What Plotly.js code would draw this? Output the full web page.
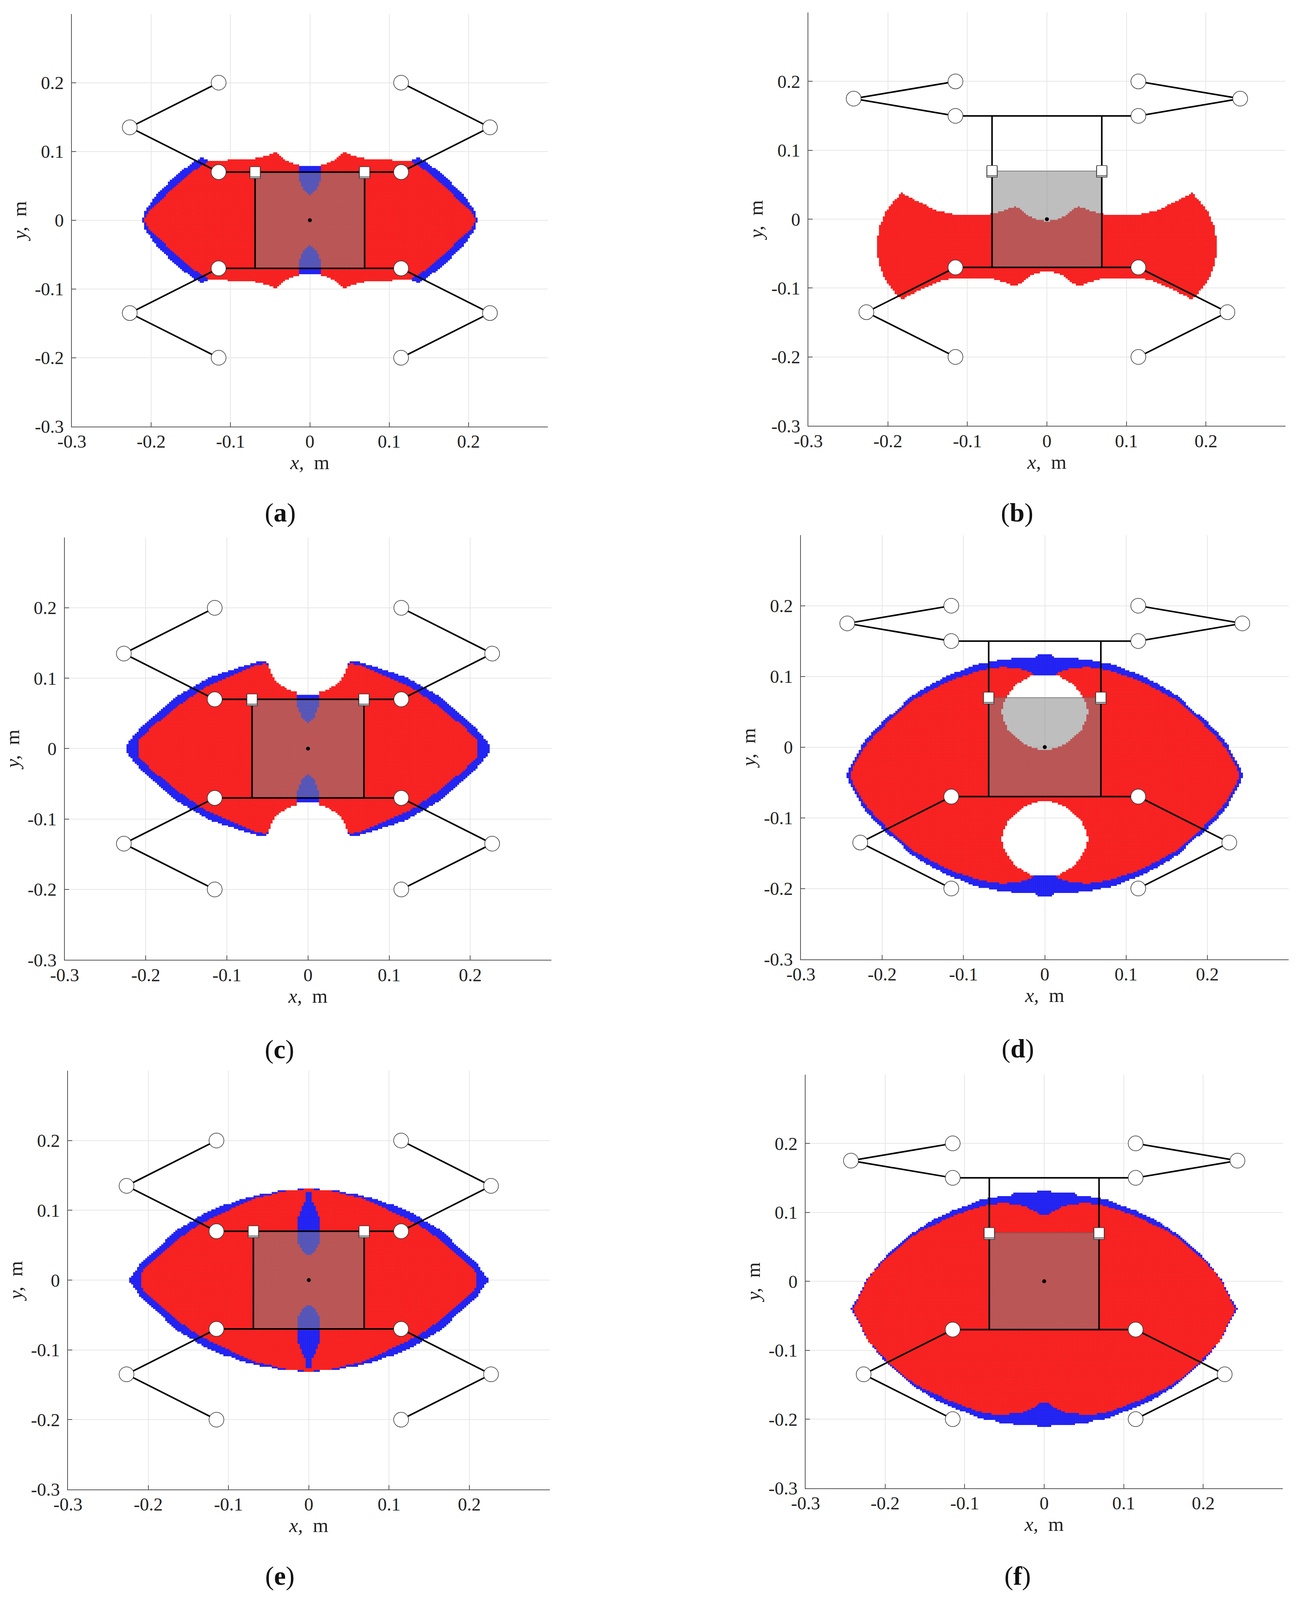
<!DOCTYPE html>
<html><head><meta charset="utf-8">
<script src="https://cdn.plot.ly/plotly-3.0.1.min.js"></script>
<style>html,body{margin:0;padding:0;background:#fff;overflow:hidden}</style></head>
<body><div id="chart"></div>
<script>
// Tick labels
const tickVals=[-0.3,-0.2,-0.1,0,0.1,0.2];
const tickText=['-0.3','-0.2','-0.1','0','0.1','0.2'];
const panelLetters=['a','b','c','d','e','f'];
// Workspace outlines: upper-right quarter (m); mirrored by x=0 and y=centre
const centreY=[0,-0.0395,0,-0.04,0,-0.0405];
const aBlueX=[0,0.0148,0.0148,0.0296,0.0378,0.0435,0.0509,0.059,0.0714,0.1215,0.128,0.136,0.165,0.1935,0.2076,0.2114];
const aBlueY=[0.0778,0.0778,0.0803,0.086,0.0934,0.0984,0.095,0.0921,0.0895,0.0865,0.0865,0.0925,0.069,0.0376,0.013,0];
const aRedX=[0,0.006,0.0105,0.0135,0.0148,0.0148,0.0296,0.0378,0.0435,0.0509,0.059,0.0714,0.1215,0.1276,0.1464,0.1653,0.1888,0.204,0.2086];
const aRedY=[0.036,0.042,0.05,0.06,0.068,0.0803,0.086,0.0934,0.0984,0.095,0.0921,0.0895,0.0865,0.0854,0.0717,0.0546,0.0278,0.0122,0];
const bBlueX=[],bBlueY=[];
const bRedX=[0,0.014,0.0235,0.0305,0.04,0.047,0.0563,0.0728,0.117,0.136,0.16,0.183,0.202,0.211,0.215];
const bRedY=[-0.0035,-0.0005,0.0044,0.0127,0.018,0.0156,0.0117,0.0068,0.0068,0.0117,0.0238,0.0384,0.0117,-0.0127,-0.0395];
const cBlueX=[0,0.0148,0.0148,0.0213,0.0278,0.0342,0.039,0.0435,0.0475,0.051,0.0663,0.0759,0.0855,0.0984,0.1079,0.1209,0.1321,0.1433,0.1538,0.1658,0.1771,0.1883,0.1995,0.2115,0.218,0.2236,0.2236];
const cBlueY=[0.0768,0.0768,0.0804,0.083,0.0862,0.0905,0.0955,0.1025,0.1125,0.1248,0.1219,0.1187,0.1155,0.1099,0.1067,0.1011,0.0939,0.0859,0.0804,0.0708,0.0588,0.0476,0.0372,0.0228,0.0133,0.0053,0];
const cRedX=[0,0.0069,0.0117,0.0146,0.0148,0.0213,0.0278,0.0342,0.039,0.0435,0.0475,0.051,0.0695,0.0855,0.0984,0.1112,0.1241,0.1369,0.1498,0.1626,0.1754,0.1883,0.1979,0.2083,0.2092];
const cRedY=[0.0356,0.0428,0.054,0.0685,0.0804,0.083,0.0862,0.0905,0.0955,0.1025,0.1125,0.1219,0.1163,0.1075,0.1011,0.0947,0.0883,0.0796,0.0684,0.0596,0.046,0.0348,0.0244,0.0117,0];
const dBlueX=[0,0.0091,0.0207,0.0289,0.0388,0.0454,0.0503,0.0536,0.0503,0.0454,0.0404,0.0322,0.0256,0.0149,0,0,0.0083,0.0107,0.038,0.0405,0.0553,0.0586,0.0768,0.0868,0.0985,0.1118,0.1218,0.1352,0.1517,0.1649,0.1781,0.1979,0.2111,0.2243,0.2375,0.2441];
const dBlueY=[-0.0032,-0.0024,0.0016,0.0072,0.0167,0.0247,0.0374,0.0502,0.0629,0.074,0.082,0.0908,0.0955,0.102,0.102,0.1306,0.1306,0.1274,0.1274,0.125,0.125,0.1218,0.1186,0.1154,0.1099,0.1043,0.0995,0.0916,0.0812,0.0709,0.0565,0.0374,0.0231,0.004,-0.0231,-0.04];
const dRedX=[0,0.0091,0.0207,0.0289,0.0388,0.0454,0.0503,0.0536,0.0503,0.0454,0.0404,0.0322,0.0256,0.0149,0.0149,0.0198,0.0272,0.0437,0.0461,0.056,0.0569,0.075,0.0898,0.1013,0.1145,0.1277,0.1409,0.154,0.1639,0.1771,0.1936,0.2068,0.2199,0.2331,0.2397];
const dRedY=[-0.0032,-0.0024,0.0016,0.0072,0.0167,0.0247,0.0374,0.0502,0.0629,0.074,0.082,0.0908,0.0955,0.1015,0.1035,0.1067,0.1099,0.1107,0.1131,0.1131,0.1104,0.1099,0.1043,0.1003,0.0947,0.0876,0.0804,0.0709,0.0661,0.0518,0.0342,0.0199,0.0024,-0.0215,-0.04];
const eBlueX=[0,0.0068,0.0294,0.0383,0.0431,0.0544,0.0657,0.0754,0.0868,0.0981,0.1094,0.1207,0.1352,0.1433,0.1538,0.1659,0.1772,0.1885,0.199,0.2103,0.2176,0.2229,0.2229];
const eBlueY=[0.1308,0.1308,0.128,0.1276,0.1251,0.1246,0.1211,0.1186,0.1146,0.1097,0.1065,0.1008,0.0919,0.0854,0.0789,0.0708,0.0579,0.0449,0.0352,0.023,0.01,0.0028,0];
const eRedX=[0,0.0068,0.0116,0.0149,0.0149,0.0116,0.0084,0.0044,0.0029,0,0,0.006,0.0076,0.0294,0.0415,0.0544,0.0657,0.0754,0.0868,0.0981,0.111,0.1239,0.1368,0.1497,0.1627,0.1756,0.1885,0.2023,0.2079,0.2082];
const eRedY=[0.036,0.04,0.0481,0.0627,0.0789,0.0951,0.1049,0.113,0.1251,0.1251,0.1308,0.1308,0.128,0.1276,0.1243,0.1203,0.1178,0.113,0.1073,0.1008,0.0935,0.087,0.0797,0.0684,0.0587,0.0465,0.0335,0.019,0.0109,0];
const fBlueX=[0,0.0073,0.0098,0.0376,0.0401,0.0553,0.0587,0.0772,0.0874,0.1008,0.1143,0.1261,0.1379,0.1514,0.1649,0.1784,0.1919,0.2088,0.2239,0.234,0.2433];
const fBlueY=[0.1307,0.1307,0.1278,0.1278,0.125,0.125,0.1221,0.1188,0.1147,0.1082,0.1033,0.0959,0.0902,0.0804,0.0706,0.0575,0.0444,0.024,0.0011,-0.0234,-0.0405];
const fRedX=[0,0.0056,0.0098,0.0148,0.0266,0.0435,0.0469,0.0553,0.0755,0.0874,0.1008,0.1143,0.1278,0.1413,0.1548,0.1683,0.1818,0.1953,0.2088,0.2206,0.2324,0.2408];
const fRedY=[0.0951,0.0959,0.1,0.1033,0.1098,0.1114,0.1139,0.1131,0.1098,0.1057,0.1008,0.0943,0.0877,0.0796,0.073,0.0632,0.0502,0.0371,0.0208,0.006,-0.0217,-0.0405];
// Mechanism: links and joints (m). Pose 1 = panels a,c,e ; pose 2 = panels b,d,f
const pose1LinkX=[-0.115,-0.227,-0.115,0.115,0.227,0.115,null,-0.115,-0.227,-0.115,0.115,0.227,0.115,null,-0.069,-0.069,null,0.069,0.069];
const pose1LinkY=[0.2,0.135,0.07,0.07,0.135,0.2,null,-0.2,-0.135,-0.07,-0.07,-0.135,-0.2,null,0.07,-0.07,null,0.07,-0.07];
const pose1JointX=[-0.115,-0.227,-0.115,0.115,0.227,0.115,-0.115,-0.227,-0.115,0.115,0.227,0.115];
const pose1JointY=[0.2,0.135,0.07,0.2,0.135,0.07,-0.2,-0.135,-0.07,-0.2,-0.135,-0.07];
const pose2LinkX=[-0.115,-0.243,-0.115,0.115,0.243,0.115,null,-0.115,-0.227,-0.115,0.115,0.227,0.115,null,-0.069,-0.069,null,0.069,0.069];
const pose2LinkY=[0.2,0.175,0.15,0.15,0.175,0.2,null,-0.2,-0.135,-0.07,-0.07,-0.135,-0.2,null,0.15,-0.07,null,0.15,-0.07];
const pose2JointX=[-0.115,-0.243,-0.115,0.115,0.243,0.115,-0.115,-0.227,-0.115,0.115,0.227,0.115];
const pose2JointY=[0.2,0.175,0.15,0.2,0.175,0.15,-0.2,-0.135,-0.07,-0.2,-0.135,-0.07];
const sliderX=[-0.069,0.069], sliderY=[0.07,0.07];
const platformX=[-0.069,0.069,0.069,-0.069,-0.069], platformY=[0.07,0.07,-0.07,-0.07,0.07];
const centreX=[0], centreDotY=[0];
const gridStep=0.0025;

// Panel boxes in reference pixels (3324x4719)
const pxBoxes=[[184,1403,41,1258],[2070,3292,37,1256],[165.5,1412,1585,2831],[2051,3300,1578,2829],[174,1407.5,3158,4393],[2063,3285,3169,4389]];
const captionPx=[[717,1512],[2604,1512],[716,3094],[2606,3092],[717,4648],[2606,4648]];
const W=3324,H=4719;
// The browser may give a window shorter than asked: fit the whole figure to the real height
const drawH=Math.min(window.innerHeight||H,H);
document.getElementById('chart').style.cssText='width:'+W+'px;height:'+drawH+'px';
const outlines=[[aBlueX,aBlueY,aRedX,aRedY],[bBlueX,bBlueY,bRedX,bRedY],[cBlueX,cBlueY,cRedX,cRedY],[dBlueX,dBlueY,dRedX,dRedY],[eBlueX,eBlueY,eRedX,eRedY],[fBlueX,fBlueY,fRedX,fRedY]];

function inPoly(px,py,xs,ys,yc){
  if(!xs.length) return false;
  const X=xs.concat([0]),Y=ys.concat([yc]);let c=false;
  for(let i=0,j=X.length-1;i<X.length;j=i++){
    if((Y[i]>py)!==(Y[j]>py) && px<(X[j]-X[i])*(py-Y[i])/(Y[j]-Y[i])+X[i]) c=!c;
  }
  return c;
}
const gridN=Math.round(0.26/gridStep);
const gridAxis=[];for(let i=-gridN;i<=gridN;i++)gridAxis.push(+(i*gridStep).toFixed(4));

const traces=[],layout={width:W,height:drawH,margin:{l:0,r:0,t:0,b:0},paper_bgcolor:'#fff',plot_bgcolor:'#fff',showlegend:false,annotations:[],
  font:{family:'"Liberation Serif",serif',color:'#222',size:47}};

for(let p=0;p<6;p++){
  const s=p===0?'':String(p+1),xa='x'+s,ya='y'+s,[l,r,t,b]=pxBoxes[p],yc=centreY[p],[bx,by,rx,ry]=outlines[p];
  const axisBase={range:[-0.3,0.3],tickmode:'array',tickvals:tickVals,ticktext:tickText,showgrid:true,gridcolor:'#e7e7e7',gridwidth:2,
    zeroline:false,showline:true,linecolor:'#555',linewidth:2,ticks:'inside',ticklen:11,tickwidth:2,tickcolor:'#555',
    tickfont:{family:'"Liberation Serif",serif',size:47,color:'#222'},fixedrange:true};
  layout['xaxis'+s]=Object.assign({},axisBase,{domain:[l/W,r/W],anchor:ya,ticklabelstandoff:-4,
    title:{text:'<i>x,</i>  m',standoff:10,font:{family:'"Liberation Serif",serif',size:51,color:'#222'}}});
  layout['yaxis'+s]=Object.assign({},axisBase,{domain:[1-b/H,1-t/H],anchor:xa,ticklabelstandoff:9,
    title:{text:'<i>y,</i>  m',standoff:5,font:{family:'"Liberation Serif",serif',size:51,color:'#222'}}});
  const z=gridAxis.map(y=>gridAxis.map(x=>{
    const fx=Math.abs(x)+1e-6,fy=yc+Math.abs(y-yc)+1e-6;
    if(inPoly(fx,fy,rx,ry,yc))return 2;
    if(inPoly(fx,fy,bx,by,yc))return 1;
    return null;}));
  const hm={type:'heatmap',x:gridAxis,y:gridAxis,z:z,xaxis:xa,yaxis:ya,zmin:1,zmax:2,showscale:false,hoverinfo:'skip',zsmooth:false};
  traces.push(Object.assign({},hm,{colorscale:[[0,'#2222dd'],[1,'#ea2424']]}));
  traces.push(Object.assign({},hm,{colorscale:[[0,'#2525ff'],[1,'#ff2222']],xgap:1,ygap:1}));
  traces.push({type:'scatter',mode:'lines',x:platformX,y:platformY,xaxis:xa,yaxis:ya,fill:'toself',fillcolor:'rgba(132,132,132,0.53)',
    line:{color:'#666',width:1.5},hoverinfo:'skip'});
  const pose2=p%2===1;
  traces.push({type:'scatter',mode:'lines',x:pose2?pose2LinkX:pose1LinkX,y:pose2?pose2LinkY:pose1LinkY,xaxis:xa,yaxis:ya,
    line:{color:'#000',width:4},hoverinfo:'skip'});
  traces.push({type:'scatter',mode:'markers',x:pose2?pose2JointX:pose1JointX,y:pose2?pose2JointY:pose1JointY,xaxis:xa,yaxis:ya,
    marker:{symbol:'circle',size:38,color:'#fff',line:{color:'#333',width:1.5}},hoverinfo:'skip'});
  traces.push({type:'scatter',mode:'markers',x:sliderX,y:sliderY.map(v=>v-0.0015),xaxis:xa,yaxis:ya,
    marker:{symbol:'square',size:27,color:'#ccc',line:{color:'#333',width:1.5}},hoverinfo:'skip'});
  traces.push({type:'scatter',mode:'markers',x:sliderX,y:sliderY.map(v=>v+0.0005),xaxis:xa,yaxis:ya,
    marker:{symbol:'square',size:26,color:'#fff',line:{color:'#333',width:1.5}},hoverinfo:'skip'});
  traces.push({type:'scatter',mode:'markers',x:centreX,y:centreDotY,xaxis:xa,yaxis:ya,
    marker:{symbol:'circle',size:10,color:'#000'},hoverinfo:'skip'});
  layout.annotations.push({xref:'paper',yref:'paper',x:captionPx[p][0]/W,y:1-captionPx[p][1]/H,xanchor:'center',yanchor:'middle',showarrow:false,
    text:'(<b>'+panelLetters[p]+'</b>)',font:{family:'"Liberation Serif",serif',size:68,color:'#111'}});
}
Plotly.newPlot('chart',traces,layout,{displayModeBar:false,responsive:false});
</script></body></html>
